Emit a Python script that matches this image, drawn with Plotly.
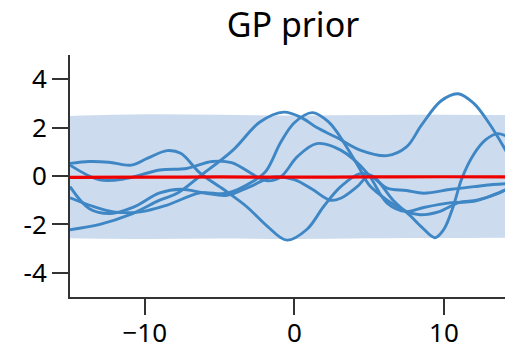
import plotly.graph_objects as go

# ---- data ----
band_x = [-15, -10, -5, 0, 5, 10, 14.62]
band_upper = [2.48, 2.55, 2.53, 2.5, 2.52, 2.53, 2.52]
band_lower = [-2.57, -2.6, -2.58, -2.6, -2.57, -2.56, -2.55]

mean_x = [-15, -10, -5, 0, 5, 10, 14.62]
mean_y = [-0.06, -0.05, -0.04, -0.05, -0.04, -0.03, -0.04]

p_x = [-15, -13.7, -12.4, -10.9, -9.8, -8.5, -7.6, -6.3, -4.7, -3.2, -1.8, -0.5, 0.85, 1.96, 3.1, 4.4, 5.3, 6.6, 7.5, 8.4, 9.7, 11, 12.2, 13.5, 14.62]
p_y = [0.52, 0.6, 0.57, 0.45, 0.74, 1.05, 0.94, 0.12, -0.57, -1.26, -2.08, -2.65, -2.2, -1.26, -0.44, 0.1, -0.03, -1.0, -1.47, -1.6, -1.47, -1.1, -1.0, -0.75, -0.4]

q_x = [-15, -13, -11, -9, -7.8, -6.3, -4.1, -2.3, -0.7, 0.5, 1.5, 2.8, 4.4, 6.2, 7.5, 8.5, 9.8, 10.95, 12.0, 13.0, 14.0, 14.62]
q_y = [-2.22, -2.0, -1.6, -1.0, -0.7, 0.0, 1.07, 2.23, 2.64, 2.4, 2.0, 1.6, 1.07, 0.84, 1.2, 2.1, 3.1, 3.4, 3.0, 2.2, 1.2, 0.5]

r_x = [-15, -13, -11.2, -9, -7.2, -5.5, -4.2, -2.5, -1.8, -0.9, 0.2, 1.5, 3.1, 4.9, 6.2, 7.5, 8.65, 10.5, 12, 13.3, 14.62]
r_y = [0.45, -0.16, -0.1, 0.25, 0.31, 0.6, 0.55, -0.03, -0.2, -0.03, 0.8, 1.34, 1.07, 0.1, -1.12, -1.47, -1.3, -1.1, -1.05, -0.78, -0.44]

s_x = [-15, -13.4, -12.1, -10.3, -8.5, -6.3, -4.5, -2.7, -1.9, -0.9, 0.0, 1.2, 2.3, 3.0, 4.35, 5.0, 6.35, 7.5, 8.5, 9.4, 10.0, 10.6, 11.2, 12.0, 12.8, 13.6, 14.62]
s_y = [-0.9, -1.27, -1.48, -1.48, -1.2, -0.7, -0.71, -0.2, 0.2, 1.4, 2.2, 2.62, 2.23, 1.68, 0.32, -0.37, -1.06, -1.5, -2.1, -2.55, -2.2, -1.3, -0.1, 0.9, 1.5, 1.75, 1.5]

t_x = [-15, -13.7, -12.3, -10.8, -9, -7.6, -6, -4.5, -3, -1.5, 0.0, 1.2, 2.4, 3.1, 4.2, 5.0, 6.2, 7.5, 8.65, 10.5, 12.0, 13.3, 14.62]
t_y = [-0.44, -1.35, -1.55, -1.3, -0.7, -0.55, -0.7, -0.8, -0.45, -0.05, -0.15, -0.55, -1.0, -0.92, -0.44, 0.0, -0.5, -0.6, -0.71, -0.55, -0.44, -0.35, -0.3]

x_tickvals = [-10, 0, 10]
x_ticktext = ["\u221210", "0", "10"]
y_tickvals = [-4, -2, 0, 2, 4]
y_ticktext = ["-4", "-2", "0", "2", "4"]

samples = [(p_x, p_y), (q_x, q_y), (r_x, r_y), (s_x, s_y), (t_x, t_y)]

BAND = "#ccdcee"
LINE = "#3f86c5"
MEAN = "#ee0000"
FONT = "Noto Sans"

# the page body adds an 8px margin, so the figure is drawn 8px smaller
W, H = 505, 339

fig = go.Figure()
fig.add_trace(go.Scatter(x=band_x, y=band_upper, mode="lines", line=dict(width=0, shape="spline"),
                         hoverinfo="skip", showlegend=False))
fig.add_trace(go.Scatter(x=band_x, y=band_lower, mode="lines", line=dict(width=0, shape="spline"),
                         fill="tonexty", fillcolor=BAND, hoverinfo="skip", showlegend=False))
for sx, sy in samples:
    fig.add_trace(go.Scatter(x=sx, y=sy, mode="lines",
                             line=dict(color=LINE, width=2.9, shape="spline", smoothing=1.0),
                             showlegend=False))
fig.add_trace(go.Scatter(x=mean_x, y=mean_y, mode="lines",
                         line=dict(color=MEAN, width=3.2, shape="spline"), showlegend=False))

axis_common = dict(showgrid=False, zeroline=False, showline=True, linecolor="#333333", linewidth=2,
                   ticks="outside", ticklen=16, tickwidth=2, tickcolor="#333333", automargin=False,
                   tickfont=dict(family=FONT, size=26, color="black"))

fig.update_layout(
    width=W, height=H,
    margin=dict(l=62, r=0, t=47, b=50),
    paper_bgcolor="white", plot_bgcolor="white",
    title=dict(text="GP prior", x=285 / W, xref="container", xanchor="center",
               y=1 - 17 / H, yref="container", yanchor="middle",
               font=dict(family=FONT, size=34, color="black")),
    xaxis=dict(range=[-15, 14.62], tickvals=x_tickvals, ticktext=x_ticktext,
               ticklabelstandoff=-4, **axis_common),
    yaxis=dict(range=[-5, 5], tickvals=y_tickvals, ticktext=y_ticktext, **axis_common),
)

fig.write_html("out.html")
